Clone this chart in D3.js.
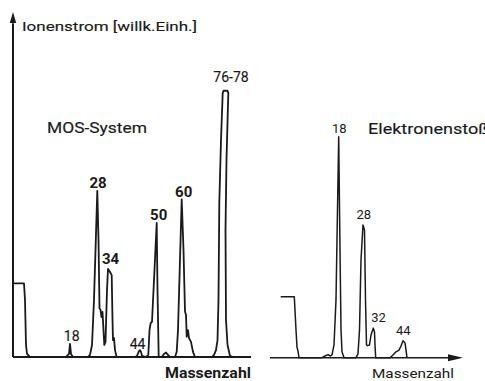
<!DOCTYPE html>
<html>
    <head>
        <meta charset="UTF-8">
        <title>Massenspektren</title>
        <script src="https://d3js.org/d3.v7.min.js"></script>
        <style>
            body { margin: 0; background: #fff; }
            text { font-family: Roboto, "Liberation Sans", Arial, sans-serif; fill: #1a1a1a; }
            .medium { stroke: #1a1a1a; stroke-width: 0.15px; }
        </style>
    </head>
    <body>
        <div id="chart"></div>
        <script>
            // MOS-System trace (channel, signal in willk. Einh.)
            var mosChannel = [0, 11, 12, 13, 14, 17, 53, 55, 56, 57, 58, 60,
                75, 77, 79, 81, 84.3, 85.5, 86.5, 87.5, 88.5, 89.5, 90.5, 91.3, 92.5, 94, 95, 97, 98.7, 99.5, 100, 101, 102, 103.7,
                122, 124, 126, 127, 128, 129, 133, 135.3, 136.5, 137.7, 139, 141, 143.7, 144.5, 145.7,
                149, 151, 153, 155, 157, 162, 163.7, 165, 168.7, 170.5, 172, 173, 173.7, 175, 176, 178, 180, 182,
                199, 201, 203, 204.5, 205.5, 206.3, 208, 209.7, 210.5, 214.5, 215.3, 213.5, 212.5, 213, 214.5, 217, 220, 238];
            var mosSignal = [21.4, 21.4, 16.6, 3.5, 0.9, 0, 0, 0.6, 0.9, 3.8, 0.9, 0,
                0, 0.6, 3.5, 16.6, 48.3, 34.0, 14.2, 13.7, 11.6, 13.1, 7.8, 3.5, 4.4, 19.5, 25.6, 24.7, 23.8, 10.8, 4.9, 5.5, 2.0, 0,
                0, 0.3, 1.7, 2.0, 1.5, 0.3, 0, 0.6, 7.8, 9.9, 10.2, 22.4, 39.0, 19.5, 0,
                0, 0.9, 1.3, 0.6, 0, 0, 1.5, 7.8, 45.8, 31.1, 13.2, 12.2, 5.9, 7.8, 5.5, 4.4, 1.5, 0,
                0, 0.6, 2.0, 4.9, 16.6, 44.8, 63.1, 76.7, 77.4, 77.4, 76.7, 57.3, 36.9, 10.8, 3.5, 0.3, 0, 0];

            // Elektronenstoss trace
            var eiChannel = [10.7, 24.3, 26, 27, 28, 29, 52, 55, 58, 60, 62, 64, 66, 68.7, 70, 71, 72, 74,
                86, 88, 89.5, 91, 93, 94.5, 95.5, 96.5, 97.5, 99.5, 101, 103.3, 104.5, 105, 105.7,
                120, 123, 126, 129, 131, 133, 135, 136, 137];
            var eiSignal = [17.7, 17.7, 8.1, 3.1, 1.9, 0, 0, 0.5, 0.9, 0.5, 0.8, 3.7, 16.8, 64.2, 31.3, 8.1, 1.7, 0,
                0, 1.1, 8.1, 28.4, 38.6, 37.1, 16.8, 3.7, 3.5, 3.7, 6.6, 8.6, 7.5, 3.7, 0,
                0, 0.8, 1.7, 2.2, 3.4, 4.9, 4.3, 2.2, 0];

            // peak labels (Massenzahl) and where they sit
            var mosLabels = ["18", "28", "34", "44", "50", "60", "76-78"];
            var mosLabelChannel = [58.7, 85, 97.5, 124.5, 145.7, 170.7, 218];
            var mosLabelSignal = [4.7, 49.2, 26.9, 2.2, 39.8, 46.6, 79.8];
            var mosLabelBold = [false, true, true, false, true, true, false];
            var eiLabels = ["18", "28", "32", "44"];
            var eiLabelChannel = [69.3, 93.7, 108.5, 133.3];
            var eiLabelSignal = [65.4, 40.2, 10.5, 6.6];

            var width = 485
            var height = 381

            var svg = d3.select("#chart")
                .append("svg")
                    .attr("width", width)
                    .attr("height", height)

            // scales for the two panels
            var xMos = d3.scaleLinear().domain([0, 238]).range([13, 251])
            var yMos = d3.scaleLinear().domain([0, 100]).range([357, 13])
            var xEi = d3.scaleLinear().domain([0, 192]).range([270, 462])
            var yEi = d3.scaleLinear().domain([0, 100]).range([357.7, 13.7])

            var ink = "#1a1a1a"

            // left panel axes
            svg.append("line")
                .attr("x1", xMos(0)).attr("y1", yMos(0))
                .attr("x2", xMos(0)).attr("y2", yMos(97))
                .attr("stroke", ink).attr("stroke-width", 2)
            svg.append("path")
                .attr("d", "M" + xMos(0) + "," + (yMos(100) - 1) + "l-3.2,11h6.4z")
                .attr("fill", ink)
            svg.append("line")
                .attr("x1", xMos(0)).attr("y1", yMos(0))
                .attr("x2", xMos(238)).attr("y2", yMos(0))
                .attr("stroke", ink).attr("stroke-width", 2)

            // right panel axis with arrow
            svg.append("line")
                .attr("x1", xEi(0)).attr("y1", yEi(0))
                .attr("x2", xEi(182)).attr("y2", yEi(0))
                .attr("stroke", ink).attr("stroke-width", 1.6)
            svg.append("path")
                .attr("d", "M" + (xEi(192) + 1) + "," + yEi(0) + "l-15,-3.5v7z")
                .attr("fill", ink)

            var lineMos = d3.line()
                .x(function(d){ return xMos(mosChannel[d]) })
                .y(function(d){ return yMos(mosSignal[d]) })
            var lineEi = d3.line()
                .x(function(d){ return xEi(eiChannel[d]) })
                .y(function(d){ return yEi(eiSignal[d]) })

            svg.append("path")
                .attr("d", lineMos(d3.range(mosChannel.length)))
                .attr("fill", "none")
                .attr("stroke", ink)
                .attr("stroke-width", 1.8)
                .attr("stroke-linejoin", "round")
            svg.append("path")
                .attr("d", lineEi(d3.range(eiChannel.length)))
                .attr("fill", "none")
                .attr("stroke", ink)
                .attr("stroke-width", 1.5)
                .attr("stroke-linejoin", "round")

            // peak labels
            svg.append("g")
                .selectAll("text")
                .data(mosLabels)
                .enter()
                .append("text")
                .attr("class", function(d, i){ return mosLabelBold[i] ? null : "medium" })
                .attr("x", function(d, i){ return xMos(mosLabelChannel[i]) })
                .attr("y", function(d, i){ return yMos(mosLabelSignal[i]) })
                .attr("text-anchor", "middle")
                .style("font-size", function(d, i){ return mosLabelBold[i] ? "15px" : "14px" })
                .style("font-weight", function(d, i){ return mosLabelBold[i] ? "bold" : "normal" })
                .text(function(d){ return d })

            svg.append("g")
                .selectAll("text")
                .data(eiLabels)
                .enter()
                .append("text")
                .attr("x", function(d, i){ return xEi(eiLabelChannel[i]) })
                .attr("y", function(d, i){ return yEi(eiLabelSignal[i]) })
                .attr("text-anchor", "middle")
                .style("font-size", "13px")
                .text(function(d){ return d })

            // titles
            svg.append("text")
                .attr("class", "medium")
                .attr("x", 22).attr("y", 31)
                .attr("textLength", 175).attr("lengthAdjust", "spacingAndGlyphs")
                .style("font-size", "13px")
                .text("Ionenstrom [willk.Einh.]")
            svg.append("text")
                .attr("class", "medium")
                .attr("x", 47).attr("y", 133)
                .attr("textLength", 100).attr("lengthAdjust", "spacingAndGlyphs")
                .style("font-size", "14px")
                .text("MOS-System")
            svg.append("text")
                .attr("class", "medium")
                .attr("x", 368).attr("y", 134)
                .attr("textLength", 121).attr("lengthAdjust", "spacingAndGlyphs")
                .style("font-size", "14px")
                .text("Elektronenstoß")
            svg.append("text")
                .attr("x", 165).attr("y", 378)
                .attr("textLength", 86).attr("lengthAdjust", "spacingAndGlyphs")
                .style("font-size", "14px")
                .style("font-weight", "bold")
                .text("Massenzahl")
            svg.append("text")
                .attr("x", 372).attr("y", 378)
                .attr("textLength", 82).attr("lengthAdjust", "spacingAndGlyphs")
                .style("font-size", "13px")
                .text("Massenzahl")
        </script>
    </body>
</html>
